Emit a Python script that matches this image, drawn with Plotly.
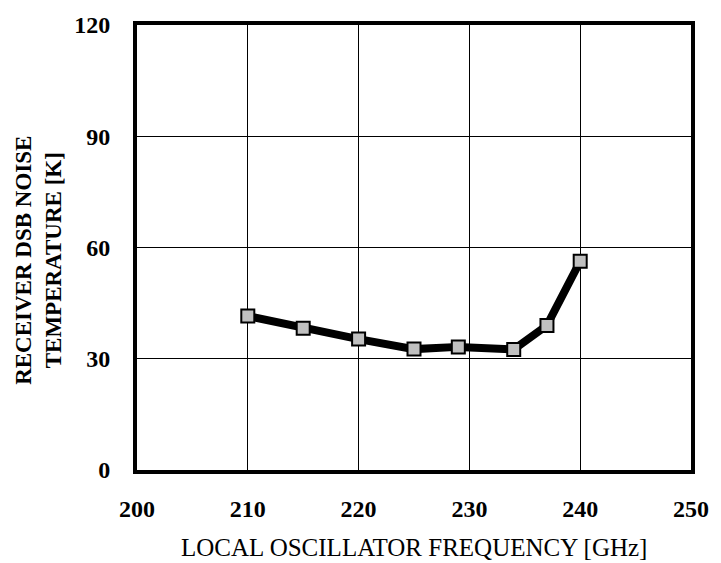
import plotly.graph_objects as go

freq = [210, 215, 220, 225, 229, 234, 237, 240]
temp = [41.5, 38.2, 35.3, 32.6, 33.2, 32.5, 39.0, 56.3]
x_ticks = [200, 210, 220, 230, 240, 250]
y_ticks = [0, 30, 60, 90, 120]

fig = go.Figure()
fig.add_trace(go.Scatter(
    x=freq, y=temp, mode="lines+markers",
    line=dict(color="black", width=8),
    marker=dict(symbol="square", size=13, color="#c0c0c0",
                line=dict(color="black", width=2)),
    showlegend=False,
))

font_tick = dict(family="Liberation Serif", size=24, color="black")
fig.update_layout(
    width=721, height=563,
    margin=dict(l=137, r=18, t=18, b=93),
    plot_bgcolor="white", paper_bgcolor="white",
    font=dict(family="Liberation Serif", color="black"),
    xaxis=dict(range=[200, 250], tickvals=x_ticks,
               ticktext=[f"<b>{v}</b>" for v in x_ticks],
               tickfont=font_tick, showgrid=True, gridcolor="black", gridwidth=1,
               showline=True, linecolor="black", linewidth=4, mirror=True,
               zeroline=False, ticks="", ticklabelstandoff=14),
    yaxis=dict(range=[0, 120], tickvals=y_ticks,
               ticktext=[f"<b>{v}</b>" for v in y_ticks],
               tickfont=font_tick, showgrid=True, gridcolor="black", gridwidth=1,
               showline=True, linecolor="black", linewidth=4, mirror=True,
               zeroline=False, ticks="", ticklabelstandoff=18),
    annotations=[
        dict(text="LOCAL OSCILLATOR FREQUENCY [GHz]", xref="paper", yref="paper",
             x=0.5, y=0, xanchor="center", yanchor="middle", yshift=-77, showarrow=False,
             borderpad=0,
             font=dict(family="Liberation Serif", size=25, color="black")),
        dict(text="<b>RECEIVER DSB NOISE<br>TEMPERATURE [K]</b>", xref="paper", yref="paper",
             x=0, y=0.47, xanchor="center", yanchor="middle", xshift=-98,
             textangle=-90, showarrow=False,
             font=dict(family="Liberation Serif", size=23, color="black")),
    ],
)

fig.write_html("out.html")
